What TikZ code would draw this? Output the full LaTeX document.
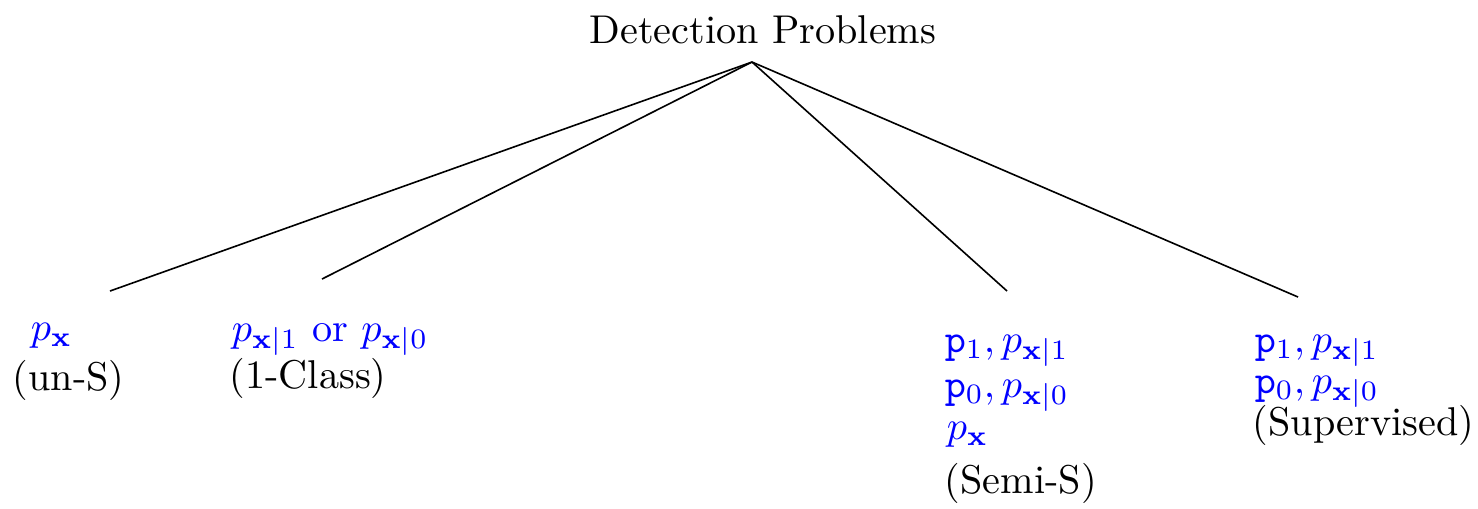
\documentclass[tikz,border=0pt]{standalone}
\begin{document}
\begin{tikzpicture}[x=0.2488pt,y=-0.2488pt,
  lbl/.style={inner sep=0pt,anchor=base west},
  dist/.style={lbl,text=blue},
  branch/.style={line width=0.4pt}]
\useasboundingbox (0,0) rectangle (1478,508);

% root
\node[inner sep=0pt,anchor=base] (root) at (763,43) {Detection Problems};
\coordinate (apex) at (752,62);

% leaf: unsupervised
\node[dist] (u1) at (30,340) {$p_{\mathbf{x}}$};
\node[lbl]  (u2) at (12,390) {(un-S)};

% leaf: one-class
\node[dist] (c1) at (231,341) {$p_{\mathbf{x}|1}$ or $p_{\mathbf{x}|0}$};
\node[lbl]  (c2) at (229,388) {(1-Class)};

% leaf: semi-supervised
\node[dist] (s1) at (944,352) {$\mathtt{p}_1, p_{\mathbf{x}|1}$};
\node[dist] (s2) at (944,397) {$\mathtt{p}_0, p_{\mathbf{x}|0}$};
\node[dist] (s3) at (946,439) {$p_{\mathbf{x}}$};
\node[lbl]  (s4) at (944,493) {(Semi-S)};

% leaf: supervised
\node[dist] (v1) at (1254,352) {$\mathtt{p}_1, p_{\mathbf{x}|1}$};
\node[dist] (v2) at (1254,393) {$\mathtt{p}_0, p_{\mathbf{x}|0}$};
\node[lbl]  (v3) at (1252,435) {(Supervised)};

% branch ends
\coordinate (eu) at (110,291);
\coordinate (ec) at (322,279);
\coordinate (es) at (1007,291);
\coordinate (ev) at (1298,297);

\draw[branch] (apex) -- (eu);
\draw[branch] (apex) -- (ec);
\draw[branch] (apex) -- (es);
\draw[branch] (apex) -- (ev);
\end{tikzpicture}
\end{document}
